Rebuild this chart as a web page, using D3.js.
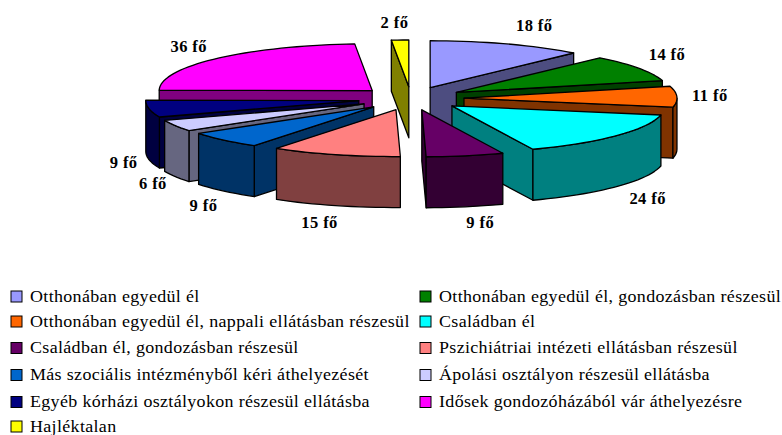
<!DOCTYPE html>
<html><head><meta charset="utf-8">
<script src="https://cdn.jsdelivr.net/npm/d3@7/dist/d3.min.js"></script>
<style>html,body{margin:0;padding:0;background:#fff}svg{display:block}text{font-family:"Liberation Serif",serif;fill:#000}</style>
</head><body><svg id="c" width="782" height="435"></svg>
<script>
const categories = ["Otthonában egyedül él","Otthonában egyedül él, gondozásban részesül","Otthonában egyedül él, nappali ellátásban részesül","Családban él","Családban él, gondozásban részesül","Pszichiátriai intézeti ellátásban részesül","Más szociális intézményből kéri áthelyezését","Ápolási osztályon részesül ellátásba","Egyéb kórházi osztályokon részesül ellátásba","Idősek gondozóházából vár áthelyezésre","Hajléktalan"];
const values = [18,14,11,24,9,15,9,6,9,36,2];
const colors = ["#9999FF","#008000","#FF6600","#00FFFF","#660066","#FF8080","#0066CC","#CCCCFF","#000080","#FF00FF","#FFFF00"];
const unit = "fő";
// layout
const cx=411, cy=98.5, R=213, tilt=0.22, depth=51, explode=53;
const labelRx=305, labelRy=350;
const labelNudge=[[13,-1],[-5,-4],[-6,-1],[1,0],[7,-3],[-5,-1],[7,1],[12,-2],[13,-1],[1,0],[-4,1]];
const legendRows=[296.5,321.5,348,375,402,426.5], legendCols=[11,420];

const svg=d3.select("#c");
const pie=d3.pie().sort(null).startAngle(0).endAngle(2*Math.PI).value(d=>d);
const arcs=pie(values).map((a,i)=>({...a,i,mid:(a.startAngle+a.endAngle)/2}));
const px=(r,a)=>r*Math.sin(a), py=(r,a)=>-r*tilt*Math.cos(a);
const line=d3.line();
const half=c=>{const r=d3.rgb(c);return d3.rgb(r.r/2,r.g/2,r.b/2).formatHex();};
const arcPts=(a0,a1,ox,oy)=>{const n=Math.max(2,Math.ceil((a1-a0)/0.04));return d3.range(n+1).map(k=>{const t=a0+(a1-a0)*k/n;return [ox+px(R,t),oy+py(R,t)];});};

const order=arcs.slice().sort((p,q)=>Math.cos(q.mid)-Math.cos(p.mid));
order.forEach(s=>{
  const ox=cx+px(explode,s.mid), oy=cy+py(explode,s.mid);
  const a0=s.startAngle,a1=s.endAngle,top=colors[s.i],side=half(top);
  const g=svg.append("g");
  const face=(pts,fill)=>g.append("path").attr("d",line(pts)+"Z").attr("fill",fill).attr("stroke","#000").attr("stroke-width",1.3).attr("stroke-linejoin","round");
  const radial=a=>{const e=[ox+px(R,a),oy+py(R,a)];face([[ox,oy],e,[e[0],e[1]+depth],[ox,oy+depth]],side);};
  if(Math.sin(a0)<0) radial(a0);
  if(Math.sin(a1)>0) radial(a1);
  const w0=Math.max(a0,Math.PI/2),w1=Math.min(a1,3*Math.PI/2);
  if(w1>w0){const p=arcPts(w0,w1,ox,oy);face(p.concat(p.slice().reverse().map(d=>[d[0],d[1]+depth])),side);}
  face([[ox,oy]].concat(arcPts(a0,a1,ox,oy)),top);
});

svg.append("g").selectAll("text").data(arcs).join("text")
  .attr("x",d=>cx+px(labelRx,d.mid)+labelNudge[d.i][0])
  .attr("y",d=>cy+py(labelRy,d.mid)+(Math.cos(d.mid)<-0.05?depth:0)+labelNudge[d.i][1])
  .attr("dy","0.35em").attr("text-anchor","middle")
  .attr("font-size",16.5).attr("letter-spacing",0.4).attr("font-weight","bold").text(d=>`${values[d.i]} ${unit}`);

const lg=svg.append("g").selectAll("g").data(categories).join("g")
  .attr("transform",(d,i)=>`translate(${legendCols[i%2]},${legendRows[Math.floor(i/2)]})`);
lg.append("rect").attr("x",0).attr("y",-5.5).attr("width",11).attr("height",11)
  .attr("fill",(d,i)=>colors[i]).attr("stroke","#000").attr("stroke-width",1);
lg.append("text").attr("transform","translate(19,0) scale(1.09,1)").attr("dy","0.32em").attr("font-size",16.5).attr("letter-spacing",0.3).text(d=>d);
</script></body></html>
